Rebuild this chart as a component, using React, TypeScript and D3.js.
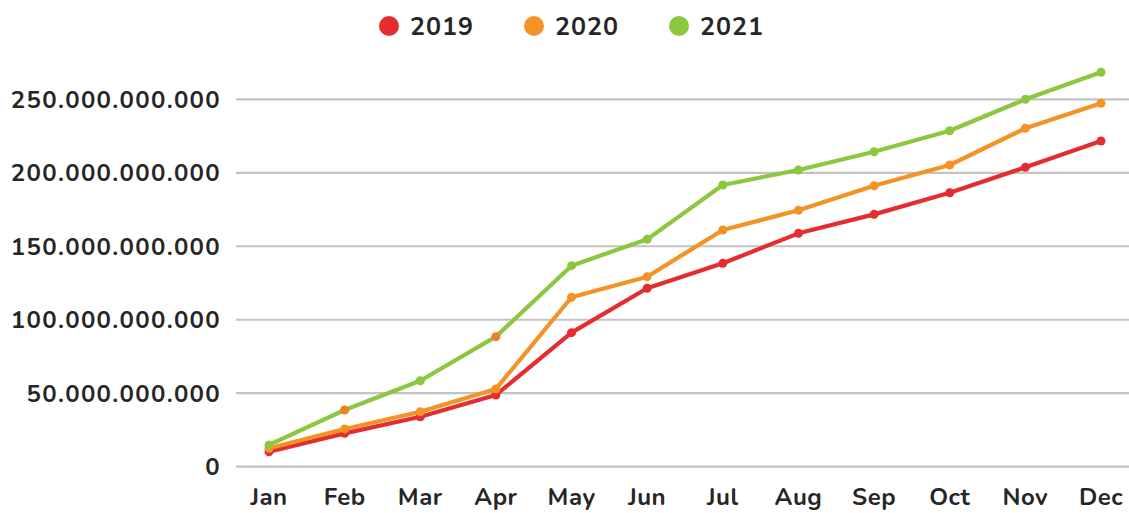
import { useEffect, useRef } from "react";
import * as d3 from "d3";

const months = ["Jan", "Feb", "Mar", "Apr", "May", "Jun", "Jul", "Aug", "Sep", "Oct", "Nov", "Dec"];

// values in billions
const sales2019 = [10.2, 22.7, 34.0, 48.8, 91.2, 121.4, 138.4, 158.8, 171.7, 186.4, 203.7, 221.6];
const sales2020 = [12.5, 25.7, 37.4, 52.9, 115.3, 129.3, 161.1, 174.5, 191.2, 205.3, 230.3, 247.3];
const sales2021 = [14.8, 38.6, 58.5, 88.5, 136.8, 154.7, 191.7, 201.9, 214.3, 228.6, 250.0, 268.4];

const yTicks = [0, 50, 100, 150, 200, 250];

const seriesNames = ["2019", "2020", "2021"];
const seriesColors = ["#e52d2f", "#f39325", "#8dc63f"];

// the original chart has a couple of points in the 2021 line painted orange
const highlightPoints = ["Feb", "Apr"];

export default function App() {
  const ref = useRef(null);

  useEffect(() => {
    const width = 1129;
    const height = 513;
    const font = "Nunito, Lato, 'Noto Sans', sans-serif";
    const textColor = "#262626";

    const svg = d3
      .select(ref.current)
      .append("svg")
      .attr("width", width)
      .attr("height", height)
      .style("display", "block");

    const x = d3.scalePoint().domain(months).range([269, 1101]);
    const y = d3.scaleLinear().domain([0, 250]).range([466.7, 99.3]);

    // gridlines
    svg
      .append("g")
      .selectAll("line")
      .data(yTicks)
      .join("line")
      .attr("x1", 236)
      .attr("x2", width)
      .attr("y1", (d) => y(d))
      .attr("y2", (d) => y(d))
      .attr("stroke", "#c3c3c3")
      .attr("stroke-width", 2.2);

    // y labels
    const fmt = (d) => (d === 0 ? "0" : d3.format(",")(d * 1e9).replace(/,/g, "."));
    svg
      .append("g")
      .selectAll("text")
      .data(yTicks)
      .join("text")
      .attr("x", 221)
      .attr("y", (d) => y(d))
      .attr("dy", "0.35em")
      .attr("text-anchor", "end")
      .attr("font-family", font)
      .attr("font-weight", 700)
      .attr("font-size", 24)
      .attr("letter-spacing", 1.3)
      .attr("fill", textColor)
      .text(fmt);

    // x labels
    svg
      .append("g")
      .selectAll("text")
      .data(months)
      .join("text")
      .attr("x", (d) => x(d))
      .attr("y", 505)
      .attr("text-anchor", "middle")
      .attr("font-family", font)
      .attr("font-weight", 700)
      .attr("font-size", 24)
      .attr("letter-spacing", 0.5)
      .attr("fill", textColor)
      .text((d) => d);

    const allSeries = [sales2019, sales2020, sales2021];
    const line = d3
      .line()
      .x((d, i) => x(months[i]))
      .y((d) => y(d));

    allSeries.forEach((vals, si) => {
      const g = svg.append("g");
      g.append("path")
        .datum(vals)
        .attr("d", line)
        .attr("fill", "none")
        .attr("stroke", seriesColors[si])
        .attr("stroke-width", 4.2)
        .attr("stroke-linejoin", "round");
      g.selectAll("circle")
        .data(vals)
        .join("circle")
        .attr("cx", (d, i) => x(months[i]))
        .attr("cy", (d) => y(d))
        .attr("r", 4.5)
        .attr("fill", (d, i) =>
          si === 2 && highlightPoints.includes(months[i]) ? "#f07f24" : seriesColors[si]
        );
    });

    // legend
    const legend = svg
      .append("g")
      .selectAll("g")
      .data(seriesNames)
      .join("g")
      .attr("transform", (d, i) => `translate(${389 + i * 145},26)`);
    legend
      .append("circle")
      .attr("r", 10)
      .attr("fill", (d, i) => seriesColors[i]);
    legend
      .append("text")
      .attr("x", 21)
      .attr("dy", "0.35em")
      .attr("font-family", font)
      .attr("font-weight", 700)
      .attr("font-size", 25)
      .attr("letter-spacing", 1)
      .attr("fill", textColor)
      .text((d) => d);

    return () => {
      d3.select(ref.current).selectAll("*").remove();
    };
  }, []);

  return <div ref={ref} style={{ position: "absolute", left: 0, top: 0 }} />;
}
